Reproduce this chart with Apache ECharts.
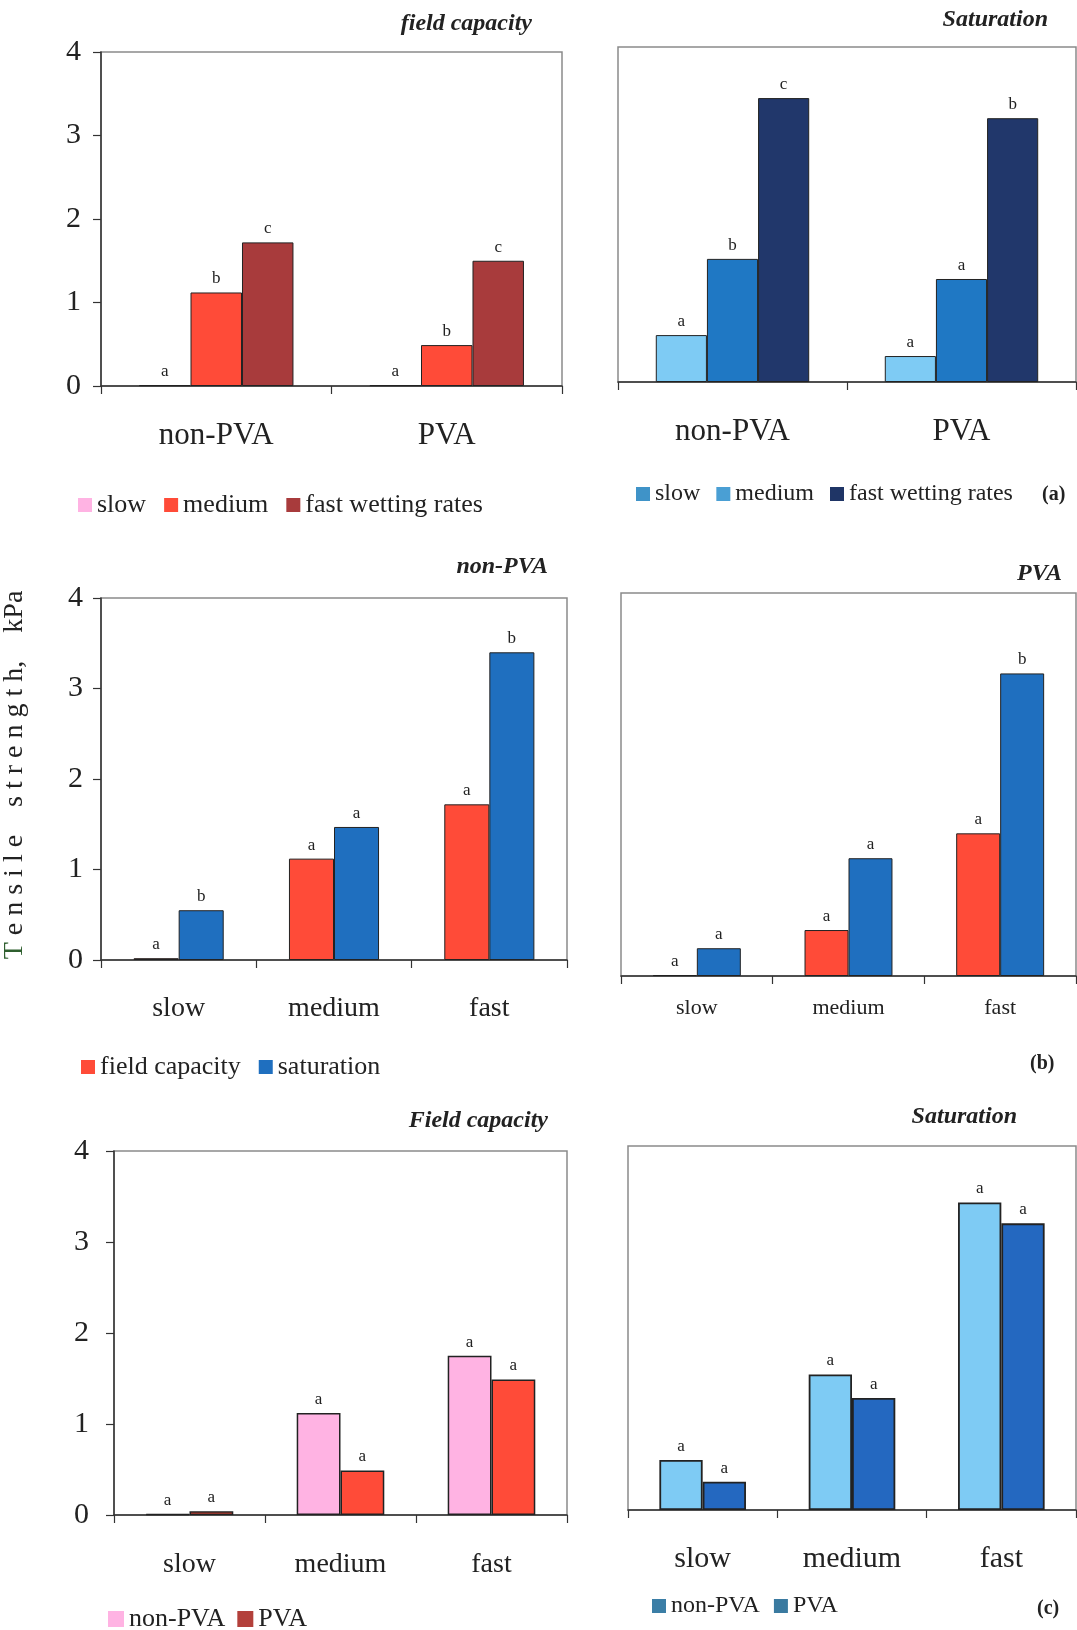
<!DOCTYPE html>
<html>
<head>
<meta charset="utf-8">
<script src="https://cdn.jsdelivr.net/npm/echarts@6.0.0/dist/echarts.min.js"></script>
<style>
html,body{margin:0;padding:0;background:#fff;}
#chart{width:1077px;height:1630px;}
</style>
</head>
<body>
<div id="chart"></div>
<script>
// ---------- data ----------
const catA = ['non-PVA', 'PVA'];
const catBC = ['slow', 'medium', 'fast'];
const yMin = 0, yMax = 4, yStep = 1;

// (a) field capacity
const aFcSlow = [0.01, 0.01];
const aFcMedium = [1.12, 0.49];
const aFcFast = [1.72, 1.50];
const aFcSlowL = ['a', 'a'];
const aFcMediumL = ['b', 'b'];
const aFcFastL = ['c', 'c'];
// (a) saturation
const aSatSlow = [0.56, 0.31];
const aSatMedium = [1.47, 1.23];
const aSatFast = [3.39, 3.15];
const aSatSlowL = ['a', 'a'];
const aSatMediumL = ['b', 'a'];
const aSatFastL = ['c', 'b'];
// (b) non-PVA
const bNonFc = [0.02, 1.12, 1.72];
const bNonSat = [0.55, 1.47, 3.40];
const bNonFcL = ['a', 'a', 'a'];
const bNonSatL = ['b', 'a', 'b'];
// (b) PVA
const bPvaFc = [0.01, 0.48, 1.49];
const bPvaSat = [0.29, 1.23, 3.16];
const bPvaFcL = ['a', 'a', 'a'];
const bPvaSatL = ['a', 'a', 'b'];
// (c) field capacity
const cFcNon = [0.01, 1.12, 1.75];
const cFcPva = [0.04, 0.49, 1.49];
const cFcNonL = ['a', 'a', 'a'];
const cFcPvaL = ['a', 'a', 'a'];
// (c) saturation
const cSatNon = [0.55, 1.49, 3.38];
const cSatPva = [0.31, 1.23, 3.15];
const cSatNonL = ['a', 'a', 'a'];
const cSatPvaL = ['a', 'a', 'a'];

// ---------- styling ----------
const SERIF = "'Liberation Serif','Times New Roman',serif";
const TXT = '#222';
const C = {
  pink: '#ffb3e3', red: '#ff4b38', darkred: '#a83b3c',
  lblue: '#7ecbf4', mblue: '#1f78c4', navy: '#21376b',
  satBlue: '#1f6fbf', cPva: '#2468c0'
};

const grids = [
  {left: 101, top: 52, width: 461, height: 334},
  {left: 618, top: 47, width: 458, height: 335},
  {left: 101, top: 598, width: 466, height: 362},
  {left: 621, top: 593, width: 455, height: 383},
  {left: 114, top: 1151, width: 453, height: 364},
  {left: 628, top: 1146, width: 448, height: 364}
].map(g => Object.assign(g, {show: true, borderColor: '#8a8a8a', borderWidth: 1.5, backgroundColor: 'transparent'}));

function xAx(i, data, fs, margin) {
  return {
    type: 'category', gridIndex: i, data: data,
    axisLine: {lineStyle: {color: '#333', width: 1.5}},
    axisTick: {show: true, length: 8, lineStyle: {color: '#333', width: 1.2}},
    axisLabel: {fontSize: fs, fontFamily: SERIF, color: TXT, margin: margin},
    splitLine: {show: false}
  };
}
function yAx(i, show, margin, extra) {
  const o = {
    type: 'value', gridIndex: i, min: yMin, max: yMax, interval: yStep,
    splitLine: {show: false},
    axisLine: {show: show, lineStyle: {color: '#333', width: 1.5}},
    axisTick: {show: show, length: 8, lineStyle: {color: '#333', width: 1.2}},
    axisLabel: {show: show, fontSize: 30, fontFamily: SERIF, color: TXT, margin: margin}
  };
  return Object.assign(o, extra || {});
}
function bar(name, i, data, letters, color, gapCat, bw) {
  return {
    type: 'bar', name: name, xAxisIndex: i, yAxisIndex: i, data: data,
    barGap: '0%', barCategoryGap: gapCat,
    itemStyle: {color: color, borderColor: '#222', borderWidth: bw},
    label: {show: true, position: 'top', distance: 5, fontSize: 17, fontFamily: SERIF, color: TXT,
      formatter: p => letters[p.dataIndex]},
    emphasis: {disabled: true}, animation: false
  };
}
function legendAt(left, top, fs, gap, items, size) {
  return {
    left: left, top: top, orient: 'horizontal', icon: 'rect', selectedMode: false, padding: 0,
    itemWidth: size || 14, itemHeight: size || 14, itemGap: gap,
    textStyle: {fontSize: fs, fontFamily: SERIF, color: TXT},
    data: items.map(it => ({name: it[0], itemStyle: {color: it[1], borderWidth: 0}}))
  };
}
function ttl(text, right, top, fs) {
  return {text: text, right: right, top: top, padding: 0,
    textStyle: {fontSize: fs, fontStyle: 'italic', fontWeight: 'bold', fontFamily: SERIF, color: TXT}};
}
function tag(text, left, top) {
  return {text: text, left: left, top: top, padding: 0,
    textStyle: {fontSize: 20, fontWeight: 'bold', fontFamily: SERIF, color: TXT}};
}

const option = {
  backgroundColor: '#fff',
  animation: false,
  title: [
    ttl('field capacity', 545, 12, 24),
    ttl('Saturation', 29, 8, 24),
    ttl('non-PVA', 529, 555, 24),
    ttl('PVA', 15, 562, 24),
    ttl('Field capacity', 529, 1109, 24),
    ttl('Saturation', 60, 1105, 24),
    tag('(a)', 1042, 485),
    tag('(b)', 1030, 1054),
    tag('(c)', 1037, 1599)
  ],
  legend: [
    legendAt(78, 492, 26, 18, [['slow', C.pink], ['medium', C.red], ['fast wetting rates', C.darkred]]),
    legendAt(636, 482, 24, 16, [['slow', '#3f93c8'], ['medium', '#4a9fd4'], ['fast wetting rates', '#1f3566']]),
    legendAt(81, 1054, 26, 18, [['field capacity', C.red], ['saturation', C.satBlue]]),
    legendAt(108, 1606, 26, 12, [['non-PVA', C.pink], ['PVA', '#b3403b']], 16),
    legendAt(652, 1594, 24, 14, [['non-PVA', '#3b7ea6'], ['PVA', '#3a7aa0']])
  ],
  grid: grids,
  xAxis: [
    xAx(0, catA, 31, 34),
    xAx(1, catA, 31, 34),
    xAx(2, catBC, 28, 35),
    xAx(3, catBC, 22, 21),
    xAx(4, catBC, 28, 36),
    xAx(5, catBC, 30, 34)
  ],
  yAxis: [
    yAx(0, true, 20),
    yAx(1, false, 0),
    yAx(2, true, 18, {
      name: '{g|T}{k| e n s i l e    s t r e n g t h,    kPa}',
      nameLocation: 'middle', nameRotate: 90, nameGap: 72,
      nameTextStyle: {fontSize: 28, fontFamily: SERIF, padding: [0, 0, 0, 8],
        rich: {g: {color: '#2f5f2f', fontSize: 28, fontFamily: SERIF},
               k: {color: TXT, fontSize: 28, fontFamily: SERIF}}}
    }),
    yAx(3, false, 0),
    yAx(4, true, 25),
    yAx(5, false, 0)
  ],
  series: [
    bar('slow', 0, aFcSlow, aFcSlowL, C.pink, '33%', 1),
    bar('medium', 0, aFcMedium, aFcMediumL, C.red, '33%', 1),
    bar('fast wetting rates', 0, aFcFast, aFcFastL, C.darkred, '33%', 1),

    bar('slow', 1, aSatSlow, aSatSlowL, C.lblue, '33%', 1),
    bar('medium', 1, aSatMedium, aSatMediumL, C.mblue, '33%', 1),
    bar('fast wetting rates', 1, aSatFast, aSatFastL, C.navy, '33%', 1),

    bar('field capacity', 2, bNonFc, bNonFcL, C.red, '42%', 1),
    bar('saturation', 2, bNonSat, bNonSatL, C.satBlue, '42%', 1),

    bar('field capacity', 3, bPvaFc, bPvaFcL, C.red, '42%', 1),
    bar('saturation', 3, bPvaSat, bPvaSatL, C.satBlue, '42%', 1),

    bar('non-PVA', 4, cFcNon, cFcNonL, C.pink, '42%', 1.5),
    bar('PVA', 4, cFcPva, cFcPvaL, C.red, '42%', 1.5),

    bar('non-PVA', 5, cSatNon, cSatNonL, C.lblue, '42%', 1.8),
    bar('PVA', 5, cSatPva, cSatPvaL, C.cPva, '42%', 1.8)
  ]
};

const chart = echarts.init(document.getElementById('chart'), null, {renderer: 'canvas'});
chart.setOption(option);
</script>
</body>
</html>
